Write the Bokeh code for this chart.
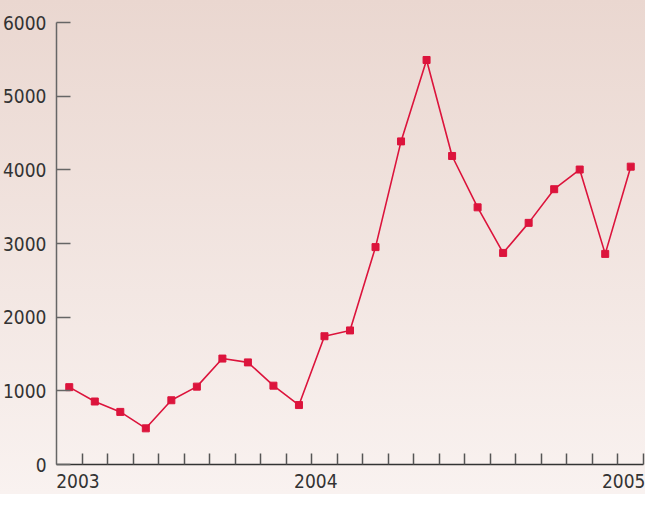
from bokeh.plotting import figure
from bokeh.models import FixedTicker, Range1d, ColumnDataSource
from bokeh.embed import file_html
from bokeh.resources import INLINE

# ---- data ----
periods = list(range(1, 24))  # 23 consecutive periods
values = [1050, 855, 714, 491, 872, 1057, 1438, 1386, 1070, 807, 1741, 1820,
          2951, 4386, 5491, 4188, 3491, 2872, 3280, 3737, 4004, 2859, 4043]
year_labels = ["2003", "2004", "2005"]
year_pos = [0.84, 10.16, 22.41]
y_ticks = [0, 1000, 2000, 3000, 4000, 5000, 6000]

FONT = "DejaVu Sans Condensed"
LINE = "#DC143C"

x_mid = [p - 0.5 for p in periods]
src = ColumnDataSource(dict(x=x_mid, y=values))

p = figure(width=645, height=494, output_backend="svg", toolbar_location=None,
           x_range=Range1d(0, len(periods)), y_range=Range1d(0, 6000),
           min_border_left=56, min_border_right=2, min_border_top=22,
           min_border_bottom=30)
p.grid.visible = False
p.outline_line_color = None
p.background_fill_color = None
p.border_fill_color = None
p.styles = {"background": "linear-gradient(to bottom, #EAD7D0 0%, #F9F2F0 100%)"}

p.line("x", "y", source=src, line_color=LINE, line_width=1.6)
p.scatter("x", "y", source=src, marker="square", size=7, fill_color=LINE,
          line_color=LINE)

# x axis
xa = p.xaxis[0]
xa.ticker = FixedTicker(ticks=year_pos, minor_ticks=[float(v) for v in periods])
xa.major_label_overrides = {pos: lab for pos, lab in zip(year_pos, year_labels)}
xa.major_tick_in = 0
xa.major_tick_out = 0
xa.minor_tick_in = 11
xa.minor_tick_out = 0
xa.minor_tick_line_color = "#555555"
xa.minor_tick_line_width = 1.5
xa.axis_line_color = "#333333"
xa.axis_line_width = 1.5
xa.major_label_text_font = FONT
xa.major_label_text_font_size = "19px"
xa.major_label_text_color = "#333333"
xa.major_label_standoff = 9

# y axis
ya = p.yaxis[0]
ya.ticker = FixedTicker(ticks=y_ticks)
ya.major_tick_in = 14
ya.major_tick_out = 0
ya.minor_tick_in = 0
ya.minor_tick_out = 0
ya.major_tick_line_color = "#666666"
ya.major_tick_line_width = 1.5
ya.axis_line_color = "#666666"
ya.axis_line_width = 1.5
ya.major_label_text_font = FONT
ya.major_label_text_font_size = "19px"
ya.major_label_text_color = "#333333"
ya.major_label_standoff = 10

open("out.html", "w").write(file_html(p, INLINE))
